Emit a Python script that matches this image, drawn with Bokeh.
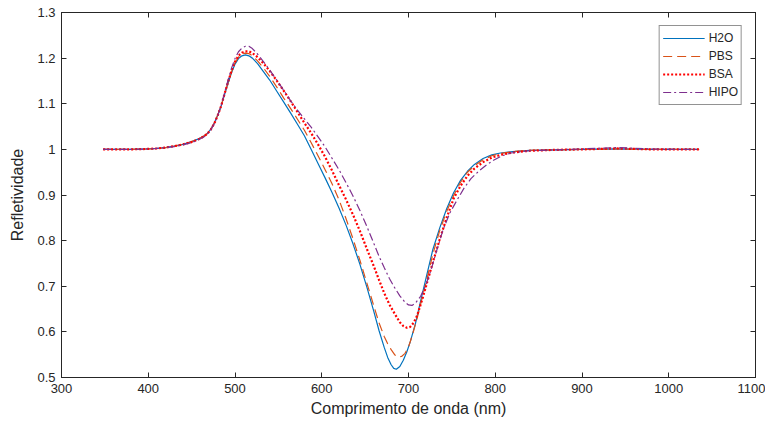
from bokeh.plotting import figure
from bokeh.models import LinearAxis, FixedTicker, CustomJSTickFormatter, Range1d, Legend, LegendItem
from bokeh.embed import file_html
from bokeh.resources import INLINE

# ---- data ----
wl_h2o = [348, 360, 380, 400, 410, 420, 430, 440, 450, 458, 464, 468, 472, 476, 480, 484, 488, 492, 496,
          500, 504, 508, 512, 516, 520, 526, 533, 540, 548, 556, 564, 572, 580, 588, 596, 604, 612, 620,
          628, 636, 644, 652, 660, 666, 672, 676, 680, 683, 686, 690, 694, 698, 702, 708, 714, 720, 728,
          736, 744, 752, 760, 768, 776, 786, 796, 806, 820, 840, 870, 900, 940, 980, 1010, 1035]
r_h2o = [1.000, 1.000, 1.000, 1.001, 1.002, 1.004, 1.007, 1.011, 1.017, 1.023, 1.029, 1.035, 1.044, 1.057,
         1.074, 1.095, 1.120, 1.145, 1.168, 1.187, 1.199, 1.205, 1.207, 1.205, 1.200, 1.188, 1.170, 1.152,
         1.128, 1.104, 1.080, 1.055, 1.030, 0.999, 0.968, 0.937, 0.905, 0.871, 0.834, 0.793, 0.748, 0.698,
         0.645, 0.603, 0.566, 0.544, 0.528, 0.520, 0.518, 0.524, 0.538, 0.556, 0.578, 0.618, 0.668, 0.716,
         0.780, 0.828, 0.870, 0.905, 0.932, 0.952, 0.967, 0.980, 0.988, 0.992, 0.995, 0.998, 0.999, 1.000,
         1.001, 1.000, 1.000, 1.000]

wl_pbs = [348, 360, 380, 400, 410, 420, 430, 440, 450, 458, 464, 468, 472, 476, 480, 484, 488, 492, 496,
          500, 504, 508, 512, 516, 520, 526, 533, 540, 548, 556, 564, 572, 580, 588, 596, 604, 612, 620,
          628, 636, 644, 652, 660, 666, 672, 676, 680, 684, 688, 692, 696, 700, 704, 710, 716, 722, 728,
          736, 744, 752, 760, 768, 776, 786, 796, 806, 820, 840, 870, 900, 940, 980, 1010, 1035]
r_pbs = [1.000, 1.000, 1.000, 1.001, 1.002, 1.004, 1.007, 1.011, 1.017, 1.023, 1.029, 1.035, 1.044, 1.057,
         1.075, 1.095, 1.122, 1.147, 1.170, 1.190, 1.202, 1.209, 1.211, 1.210, 1.205, 1.194, 1.178, 1.160,
         1.137, 1.113, 1.090, 1.066, 1.042, 1.014, 0.985, 0.955, 0.924, 0.889, 0.848, 0.804, 0.757, 0.707,
         0.657, 0.620, 0.590, 0.574, 0.561, 0.550, 0.545, 0.546, 0.553, 0.567, 0.590, 0.630, 0.676, 0.722,
         0.770, 0.822, 0.864, 0.899, 0.928, 0.950, 0.964, 0.977, 0.986, 0.991, 0.995, 0.998, 0.999, 1.000,
         1.001, 1.000, 1.000, 1.000]

wl_bsa = [348, 360, 380, 400, 410, 420, 430, 440, 450, 458, 464, 468, 472, 476, 480, 484, 488, 492, 496,
          500, 504, 508, 512, 516, 520, 526, 533, 540, 548, 556, 564, 572, 580, 588, 596, 604, 612, 620,
          628, 636, 644, 652, 660, 666, 672, 678, 684, 690, 694, 698, 702, 706, 710, 716, 722, 728, 736,
          744, 752, 760, 768, 776, 786, 796, 806, 820, 840, 870, 900, 940, 980, 1010, 1035]
r_bsa = [1.000, 1.000, 1.000, 1.001, 1.002, 1.004, 1.007, 1.011, 1.016, 1.022, 1.028, 1.034, 1.043, 1.056,
         1.074, 1.095, 1.122, 1.148, 1.172, 1.192, 1.205, 1.212, 1.215, 1.215, 1.211, 1.202, 1.188, 1.172,
         1.151, 1.129, 1.106, 1.082, 1.058, 1.035, 1.010, 0.983, 0.953, 0.921, 0.890, 0.857, 0.821, 0.782,
         0.744, 0.714, 0.685, 0.660, 0.640, 0.621, 0.613, 0.609, 0.611, 0.620, 0.636, 0.672, 0.712, 0.752,
         0.803, 0.850, 0.892, 0.920, 0.942, 0.958, 0.972, 0.982, 0.988, 0.993, 0.997, 0.999, 1.000, 1.002,
         1.000, 1.000, 1.000]

wl_hipo = [348, 360, 380, 400, 410, 420, 430, 440, 450, 458, 464, 468, 472, 476, 480, 484, 488, 492, 496,
           500, 504, 508, 512, 516, 520, 526, 533, 540, 548, 556, 564, 572, 580, 588, 596, 604, 612, 620,
           628, 636, 644, 652, 660, 666, 672, 678, 684, 690, 696, 700, 704, 708, 714, 720, 726, 732, 740,
           748, 756, 764, 772, 782, 790, 798, 808, 818, 840, 870, 900, 940, 980, 1010, 1035]
r_hipo = [1.000, 1.000, 1.000, 1.001, 1.002, 1.004, 1.006, 1.010, 1.015, 1.021, 1.027, 1.033, 1.042, 1.056,
          1.074, 1.096, 1.124, 1.152, 1.178, 1.199, 1.214, 1.222, 1.226, 1.226, 1.221, 1.209, 1.192, 1.174,
          1.152, 1.130, 1.107, 1.086, 1.067, 1.048, 1.027, 1.005, 0.980, 0.955, 0.927, 0.898, 0.866, 0.831,
          0.794, 0.766, 0.741, 0.717, 0.697, 0.679, 0.665, 0.659, 0.658, 0.663, 0.678, 0.703, 0.736, 0.775,
          0.825, 0.862, 0.889, 0.915, 0.936, 0.954, 0.966, 0.976, 0.986, 0.992, 0.997, 0.999, 1.001, 1.004,
          1.001, 1.000, 1.000]

series_names = ["H2O", "PBS", "BSA", "HIPO"]
x_ticks = [300, 400, 500, 600, 700, 800, 900, 1000, 1100]
y_ticks = [0.5, 0.6, 0.7, 0.8, 0.9, 1.0, 1.1, 1.2, 1.3]

AX = "#262626"
FONT = "Liberation Sans"

p = figure(width=765, height=420, output_backend="svg", toolbar_location=None,
           x_range=Range1d(300, 1100), y_range=Range1d(0.5, 1.3),
           min_border_left=61, min_border_right=10, min_border_top=12, min_border_bottom=43)
p.background_fill_color = "white"
p.border_fill_color = "white"
p.grid.visible = False
p.outline_line_color = AX
p.outline_line_width = 1

fmt = CustomJSTickFormatter(code="return (Math.round(tick*10)/10).toString();")
blank = CustomJSTickFormatter(code="return '';")

def style_axis(ax, ticks, labels=True):
    ax.ticker = FixedTicker(ticks=ticks)
    ax.axis_line_color = AX
    ax.major_tick_line_color = AX
    ax.major_tick_in = 5
    ax.major_tick_out = 0
    ax.minor_tick_line_color = None
    ax.major_label_text_color = AX
    ax.major_label_text_font = FONT
    ax.axis_label_text_color = AX
    ax.axis_label_text_font = FONT
    ax.axis_label_text_font_style = "normal"
    ax.major_label_text_font_size = "13px"
    ax.axis_label_text_font_size = "16px"
    if labels:
        ax.formatter = fmt
        ax.major_label_standoff = 6
    else:
        ax.formatter = blank
        ax.major_label_standoff = 0
        ax.axis_label = None

style_axis(p.xaxis[0], x_ticks)
style_axis(p.yaxis[0], y_ticks)
p.xaxis[0].axis_label = "Comprimento de onda (nm)"
p.xaxis[0].axis_label_standoff = 4
p.yaxis[0].axis_label = "Refletividade"
p.yaxis[0].axis_label_standoff = 8

top_ax = LinearAxis()
style_axis(top_ax, x_ticks, labels=False)
p.add_layout(top_ax, "above")
right_ax = LinearAxis()
style_axis(right_ax, y_ticks, labels=False)
p.add_layout(right_ax, "right")

r1 = p.line(wl_h2o, r_h2o, line_color="#0072BD", line_width=1.2)
r2 = p.line(wl_pbs, r_pbs, line_color="#D95319", line_width=1.2, line_dash="9 5")
r3 = p.line(wl_bsa, r_bsa, line_color="#FF0000", line_width=2.2, line_dash="2 2")
r4 = p.line(wl_hipo, r_hipo, line_color="#7E2F8E", line_width=1.2, line_dash="8 3 2 3")

legend = Legend(items=[LegendItem(label=n, renderers=[r]) for n, r in zip(series_names, [r1, r2, r3, r4])],
                location="top_right")
legend.margin = 13
legend.padding = 3
legend.spacing = 0
legend.glyph_width = 42
legend.glyph_height = 18
legend.label_height = 18
legend.label_standoff = 4
legend.label_text_font = FONT
legend.label_text_font_size = "12px"
legend.label_text_color = AX
legend.border_line_color = AX
legend.border_line_width = 1
legend.background_fill_color = "white"
legend.background_fill_alpha = 1
p.add_layout(legend)

open("out.html", "w").write(file_html(p, INLINE))
